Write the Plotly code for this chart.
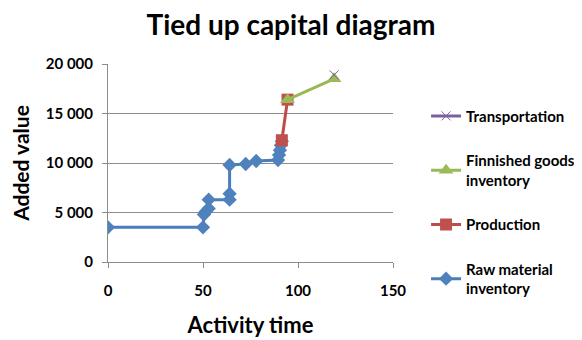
import plotly.graph_objects as go

# Raw material inventory (blue)
raw_x = [0, 50, 50.5, 51.5, 53, 53, 64, 64, 64, 72.5, 78, 89.5, 90, 90.5, 91, 91.5]
raw_y = [3500, 3500, 4800, 5100, 5400, 6300, 6300, 6900, 9800, 9900, 10200, 10300, 10800, 11300, 11800, 12200]
# Production (red)
prod_x = [91.5, 94.5]
prod_y = [12300, 16400]
# Finished goods inventory (green)
fg_x = [94.5, 119]
fg_y = [16400, 18500]
# Transportation (purple)
tr_x = [119]
tr_y = [18900]

x_ticks = [0, 50, 100, 150]
y_ticks = [0, 5000, 10000, 15000, 20000]

FONT = "Lato"

fig = go.Figure()
fig.add_trace(go.Scatter(x=raw_x, y=raw_y, mode="lines+markers", name="Raw material<br>inventory",
                         legendgroup="raw", legendrank=4,
                         line=dict(color="#4A7EBB", width=3),
                         marker=dict(symbol="diamond", size=11, color="#4F81BD")))
fig.add_trace(go.Scatter(x=prod_x, y=prod_y, mode="lines+markers", name="Production",
                         legendgroup="prod", legendrank=3,
                         line=dict(color="#BE4B48", width=3),
                         marker=dict(symbol="square", size=12, color="#C0504D")))
fig.add_trace(go.Scatter(x=fg_x, y=fg_y, mode="lines+markers", name="Finnished goods<br>inventory",
                         legendgroup="fg", legendrank=2,
                         line=dict(color="#98B954", width=3),
                         marker=dict(symbol="triangle-up", size=13, color="#9BBB59")))
fig.add_trace(go.Scatter(x=tr_x, y=tr_y, mode="lines+markers", name="Transportation",
                         legendgroup="tr", legendrank=1,
                         line=dict(color="#7D60A0", width=3),
                         marker=dict(symbol="x-thin", size=9, color="#8064A2",
                                     line=dict(color="#8064A2", width=1))))

fig.update_layout(
    width=574, height=332,
    margin=dict(l=100, r=189, t=56, b=78, autoexpand=False),
    paper_bgcolor="white", plot_bgcolor="white",
    separators=". ",
    font=dict(family=FONT, color="black"),
    title=dict(text="Tied up capital diagram", x=0.493, xanchor="center", y=0.948, yanchor="middle",
               font=dict(size=28, family=FONT, weight="bold", color="black")),
    legend=dict(x=1.116, xanchor="left", y=0.82, yanchor="top", traceorder="grouped",
                tracegroupgap=22, font=dict(size=15, family=FONT, weight="bold"),
                itemwidth=30),
    showlegend=True,
)

fig.update_xaxes(range=[0, 150], tickvals=x_ticks, showgrid=False,
                 showline=True, linecolor="#8c8c8c", linewidth=1,
                 ticks="outside", ticklen=5, tickcolor="#8c8c8c",
                 ticklabelstandoff=10,
                 tickfont=dict(size=15, family=FONT, weight="bold"),
                 zeroline=False,
                 title=dict(text="Activity time", standoff=19,
                            font=dict(size=22, family=FONT, weight="bold")))
fig.update_yaxes(range=[0, 20000], tickvals=y_ticks, tickformat=",d",
                 showgrid=True, gridcolor="#8c8c8c", gridwidth=1,
                 showline=True, linecolor="#8c8c8c", linewidth=1,
                 ticks="outside", ticklen=5, tickcolor="#8c8c8c",
                 ticklabelstandoff=6,
                 tickfont=dict(size=15, family=FONT, weight="bold"),
                 zeroline=False,
                 title=dict(text="Added value", standoff=15,
                            font=dict(size=21, family=FONT, weight="bold")))

fig.write_html("out.html")
